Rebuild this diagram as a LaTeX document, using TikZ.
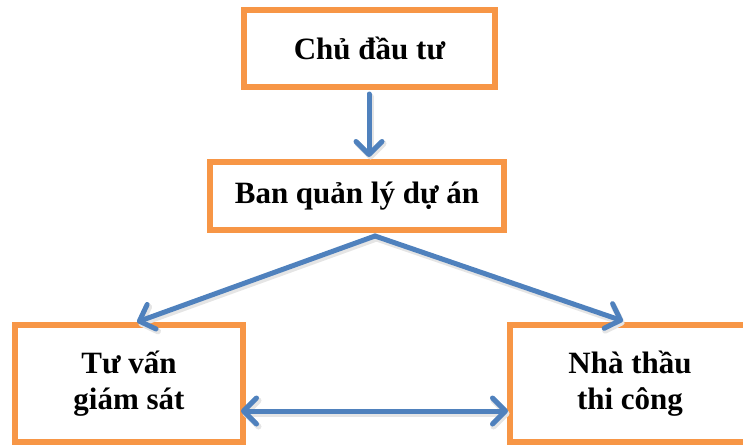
\documentclass[tikz,border=0pt]{standalone}
\usepackage{fontspec}
\setmainfont{Liberation Serif}
\usetikzlibrary{arrows.meta}
\definecolor{boxorange}{HTML}{F79646}
\definecolor{arrowblue}{HTML}{4F81BD}
\tikzset{
  tipb/.tip={Straight Barb[length=13pt,width=26pt,round]},
  orgbox/.style={draw=boxorange, line width=5.5pt, fill=white, inner sep=0pt, align=center,
    font=\fontsize{31}{36}\selectfont\bfseries},
  link/.style={draw=arrowblue, line width=5pt, line cap=round, line join=round, -tipb},
  linkshadow/.style={draw=black!10, line width=6pt, line cap=round, line join=round, -tipb}
}
\begin{document}
\begin{tikzpicture}[x=1pt,y=-1pt]
\useasboundingbox (0,0) rectangle (743,445);
\clip (0,0) rectangle (743,445);
\node[orgbox, minimum width=251pt, minimum height=77pt] (top) at (369.5,48.5) {Chủ đầu tư};
\node[orgbox, minimum width=294pt, minimum height=68pt] (mid) at (357,196) {Ban quản lý dự án};
\node[orgbox, minimum width=228pt, minimum height=117pt] (left) at (129,383.5) {Tư vấn\\giám sát};
\node[orgbox, minimum width=240pt, minimum height=117pt] (right) at (630,383.5) {Nhà thầu\\thi công};
\coordinate (vtop) at (369,94);
\coordinate (vbot) at (369,157);
\coordinate (apex) at (375,236);
\coordinate (ltip) at (137,322);
\coordinate (rtip) at (623,321);
\coordinate (htl) at (241,411);
\coordinate (htr) at (508,411);
% shadows
\begin{scope}[transform canvas={shift={(1.5pt,-2.5pt)}}]
\draw[linkshadow] (vtop) -- (vbot);
\draw[linkshadow, tipb-tipb] (ltip) -- (apex) -- (rtip);
\draw[linkshadow, tipb-tipb] (htl) -- (htr);
\end{scope}
% arrows
\draw[link] (vtop) -- (vbot);
\draw[link] (apex) -- (ltip);
\draw[link] (apex) -- (rtip);
\draw[link, tipb-tipb] (htl) -- (htr);
\end{tikzpicture}
\end{document}
